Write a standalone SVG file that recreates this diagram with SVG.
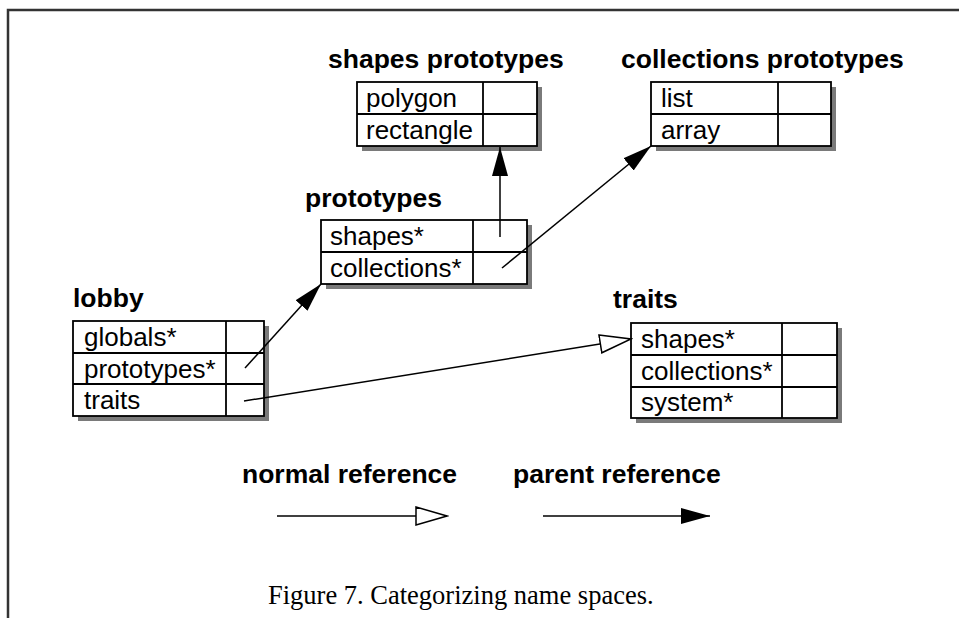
<svg xmlns="http://www.w3.org/2000/svg" width="959" height="618" viewBox="0 0 959 618">
<defs>
<style>
.frame{stroke:#333;stroke-width:2.5;fill:none}
.shadow{fill:#7a7a7a;stroke:none}
.box{fill:#fff;stroke:#000;stroke-width:1.8}
.div{stroke:#000;stroke-width:1.8}
.title{font-family:"Liberation Sans",Arial,sans-serif;font-weight:bold;font-size:26.5px;fill:#000}
.slot{font-family:"Liberation Sans",Arial,sans-serif;font-size:26px;fill:#000}
.cap{font-family:"Liberation Serif","Times New Roman",serif;font-size:26.5px;fill:#000}
.conn{stroke:#000;stroke-width:1.5;fill:none}
</style>
<marker id="filled" markerUnits="userSpaceOnUse" markerWidth="30" markerHeight="18" refX="29" refY="8.5" orient="auto">
<path d="M0,0.5 L29,8.5 L0,16.5 z" fill="#000"/>
</marker>
<marker id="hollow" markerUnits="userSpaceOnUse" markerWidth="34" markerHeight="22" refX="32" refY="10" orient="auto">
<path d="M1,1 L32,10 L1,19 z" fill="#fff" stroke="#000" stroke-width="1.5"/>
</marker>
</defs>
<rect width="959" height="618" fill="#fff"/>
<path class="frame" d="M8,618 L8,10 L959,10"/>

<g id="shapes-prototypes">
<text class="title" x="328" y="68">shapes prototypes</text>
<rect class="shadow" x="362" y="87" width="180" height="64"/>
<rect class="box" x="357" y="82" width="180" height="64"/>
<line class="div" x1="483" y1="82" x2="483" y2="146"/>
<line class="div" x1="357" y1="114" x2="537" y2="114"/>
<text class="slot" x="366" y="107">polygon</text>
<text class="slot" x="366" y="139">rectangle</text>
</g>

<g id="collections-prototypes">
<text class="title" x="621" y="68">collections prototypes</text>
<rect class="shadow" x="656" y="87" width="180" height="64"/>
<rect class="box" x="651" y="82" width="180" height="64"/>
<line class="div" x1="778" y1="82" x2="778" y2="146"/>
<line class="div" x1="651" y1="114" x2="831" y2="114"/>
<text class="slot" x="661" y="107">list</text>
<text class="slot" x="661" y="139">array</text>
</g>

<g id="prototypes">
<text class="title" x="305" y="207">prototypes</text>
<rect class="shadow" x="326" y="225" width="206" height="64"/>
<rect class="box" x="321" y="220" width="206" height="64"/>
<line class="div" x1="473" y1="220" x2="473" y2="284"/>
<line class="div" x1="321" y1="252" x2="527" y2="252"/>
<text class="slot" x="330" y="245">shapes*</text>
<text class="slot" x="330" y="277">collections*</text>
</g>

<g id="lobby">
<text class="title" x="73" y="307">lobby</text>
<rect class="shadow" x="78" y="326" width="191" height="95"/>
<rect class="box" x="73" y="321" width="191" height="95"/>
<line class="div" x1="226" y1="321" x2="226" y2="416"/>
<line class="div" x1="73" y1="353" x2="264" y2="353"/>
<line class="div" x1="73" y1="384" x2="264" y2="384"/>
<text class="slot" x="84" y="346">globals*</text>
<text class="slot" x="84" y="378">prototypes*</text>
<text class="slot" x="84" y="409">traits</text>
</g>

<g id="traits">
<text class="title" x="613" y="308">traits</text>
<rect class="shadow" x="636" y="328" width="206" height="95"/>
<rect class="box" x="631" y="323" width="206" height="95"/>
<line class="div" x1="782" y1="323" x2="782" y2="418"/>
<line class="div" x1="631" y1="355" x2="837" y2="355"/>
<line class="div" x1="631" y1="387" x2="837" y2="387"/>
<text class="slot" x="641" y="348">shapes*</text>
<text class="slot" x="641" y="380">collections*</text>
<text class="slot" x="641" y="411">system*</text>
</g>

<g id="connectors">
<line class="conn" x1="500" y1="237" x2="500" y2="147" marker-end="url(#filled)"/>
<line class="conn" x1="502" y1="268" x2="651" y2="146" marker-end="url(#filled)"/>
<line class="conn" x1="245" y1="368" x2="321" y2="284" marker-end="url(#filled)"/>
<line class="conn" x1="244" y1="401" x2="631" y2="339" marker-end="url(#hollow)"/>
</g>

<g id="legend">
<text class="title" x="242" y="483">normal reference</text>
<text class="title" x="513" y="483">parent reference</text>
<line class="conn" x1="277" y1="516" x2="447" y2="516" marker-end="url(#hollow)"/>
<line class="conn" x1="543" y1="516" x2="710" y2="516" marker-end="url(#filled)"/>
</g>

<text class="cap" x="268" y="604">Figure 7. Categorizing name spaces.</text>
</svg>
